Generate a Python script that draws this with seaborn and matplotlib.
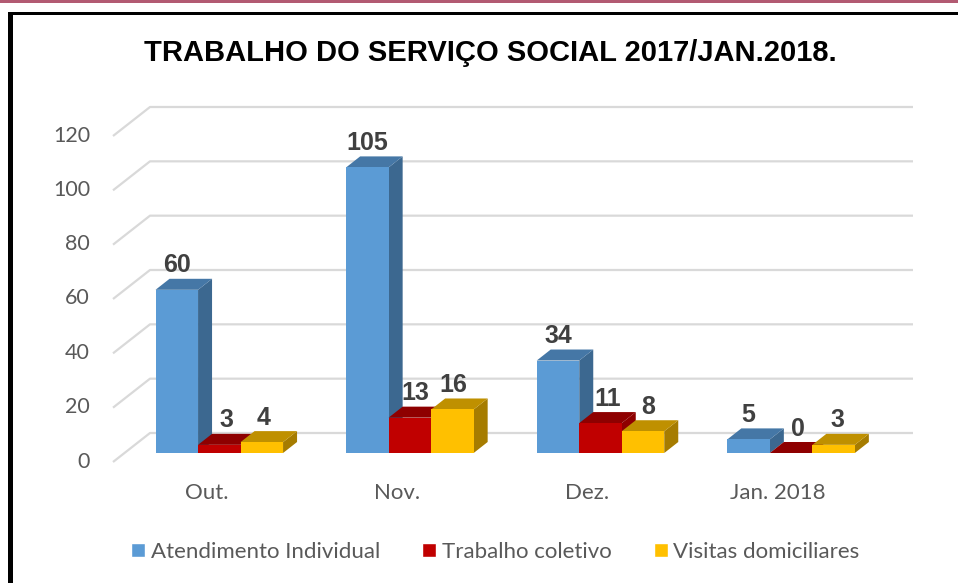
# 3D-look column chart: seaborn draws the front faces, polygons add depth
import matplotlib
matplotlib.use('Agg')
import matplotlib.pyplot as plt
from matplotlib.patches import Polygon, Rectangle
import numpy as np
import pandas as pd
import seaborn as sns

# Data
months = ['Out.', 'Nov.', 'Dez.', 'Jan. 2018']
individual = [60, 105, 34, 5]
coletivo = [3, 13, 11, 0]
visitas = [4, 16, 8, 3]
series_names = ['Atendimento Individual', 'Trabalho coletivo', 'Visitas domiciliares']
y_ticks = [0, 20, 40, 60, 80, 100, 120]

# front, top and side colours per series
front_colors = ['#5B9BD5', '#C00000', '#FFC000']
top_colors = ['#4577A6', '#8E0000', '#BF9000']
side_colors = ['#3C6890', '#8E0000', '#A67C00']

data = pd.DataFrame({
    'Mes': months * 3,
    'Valor': individual + coletivo + visitas,
    'Serie': [s for s in series_names for _ in months],
})

sns.set_style('white')
W, H = 958, 583
fig = plt.figure(figsize=(W / 100, H / 100), dpi=100)

# axes placed in pixels, with y=0 on the front plane of the bars
left, right, top, bottom = 113, 913, 100, 462
ax = fig.add_axes([left / W, 1 - bottom / H, (right - left) / W, (bottom - top) / H])

px_x = 190.6  # pixels per category
px_y = 2.72   # pixels per value
cat0 = 219.3  # pixel of first category
base = 453    # pixel of zero on the front plane

sns.barplot(data=data, x='Mes', y='Valor', hue='Serie', hue_order=series_names,
            palette=front_colors, width=0.669, saturation=1, legend=False, linewidth=0, ax=ax)
ax.set_xlim((left - cat0) / px_x, (right - cat0) / px_x)
ax.set_ylim((base - bottom) / px_y, (base - top) / px_y)
ax.set_xlabel('')
ax.set_ylabel('')
sns.despine(ax=ax, left=True, bottom=True)
ax.set_facecolor('none')
ax.grid(False)

# depth of bars and of the walls, in data units
bar_dx, bar_dy = 14 / px_x, 11 / px_y
wall_dx, wall_dy = 37 / px_x, 29 / px_y
front_drop = (bottom - base) / px_y

# walls: slanted piece on the left, long line along the back
grid_color = '#D9D9D9'
for v in y_ticks:
    y0 = v * (326 / 120) / px_y - front_drop
    x0 = (left - cat0) / px_x
    ax.plot([x0, x0 + wall_dx, (right - cat0) / px_x], [y0, y0 + wall_dy, y0 + wall_dy],
            color=grid_color, lw=1.6, zorder=1, clip_on=False, solid_capstyle='butt')

# bars from left to right so that the nearer ones paint over
bars = []
for i, cont in enumerate(ax.containers):
    for j, bar in enumerate(cont):
        bars.append((bar.get_x(), i, j, bar))
bars.sort(key=lambda b: b[0])

# small shifts of the value labels, per series and month, in pixels
label_nudge = [[0, 0, 0, 0], [7, 5, 7, 7], [2, 1, 5, 4]]
label_values = [individual, coletivo, visitas]

for n, (x, i, j, bar) in enumerate(bars):
    w, h = bar.get_width(), bar.get_height()
    z = 3 + n * 0.1
    ax.add_patch(Polygon([(x + w, 0), (x + w + bar_dx, bar_dy), (x + w + bar_dx, h + bar_dy), (x + w, h)],
                         facecolor=side_colors[i], edgecolor='none', zorder=z))
    ax.add_patch(Polygon([(x, h), (x + bar_dx, h + bar_dy), (x + w + bar_dx, h + bar_dy), (x + w, h)],
                         facecolor=top_colors[i], edgecolor='none', zorder=z + 0.01))
    bar.set_zorder(z + 0.02)
    ax.annotate(str(label_values[i][j]), (x + w / 2, h), xytext=(label_nudge[i][j] * 0.72, 24.5 * 0.72),
                textcoords='offset points', ha='center', va='center', zorder=20,
                family='Liberation Sans', fontweight='bold', fontsize=18, color='#404040')

# tick labels, the month names sit a little left of their groups in the original
tick_font = 'Lato'
ax.set_xticks(np.arange(len(months)) - 13 / px_x)
ax.set_xticklabels(months)
ax.set_yticks(np.array(y_ticks) * (326 / 120) / px_y - front_drop + 2.5 / px_y)
ax.set_yticklabels(y_ticks)
ax.tick_params(axis='y', length=0, pad=16.5, labelsize=15.5, labelcolor='#595959')
ax.tick_params(axis='x', length=0, pad=15, labelsize=16, labelcolor='#595959')
for lab in ax.get_xticklabels() + ax.get_yticklabels():
    lab.set_fontfamily(tick_font)

# legend along the bottom
handles = [Rectangle((0, 0), 1, 1, facecolor=c) for c in front_colors]
fig.legend(handles, series_names, loc='center', bbox_to_anchor=(495.5 / W, 1 - 552 / H), ncol=3,
           frameon=False, handlelength=0.63, handleheight=0.63, handletextpad=0.25,
           columnspacing=1.9, borderpad=0, borderaxespad=0,
           prop={'family': tick_font, 'size': 16}, labelcolor='#595959')

fig.text(490 / W, 1 - 53 / H, 'TRABALHO DO SERVIÇO SOCIAL 2017/JAN.2018.', ha='center', va='center',
         family='Liberation Sans', fontweight='bold', fontsize=21, color='black')

# black frame (runs off the right and bottom of the image) and the band on top
fig.add_artist(Rectangle((8 / W, 0), 5 / W, 1 - 12.5 / H, transform=fig.transFigure, facecolor='black', edgecolor='none'))
fig.add_artist(Rectangle((8 / W, 1 - 15 / H), 1 - 8 / W, 2.5 / H, transform=fig.transFigure, facecolor='black', edgecolor='none'))
fig.add_artist(Rectangle((0, 1 - 2.5 / H), 1, 2.5 / H, transform=fig.transFigure, facecolor='#B25A72', edgecolor='none'))

fig.savefig('out.png', dpi=100)
